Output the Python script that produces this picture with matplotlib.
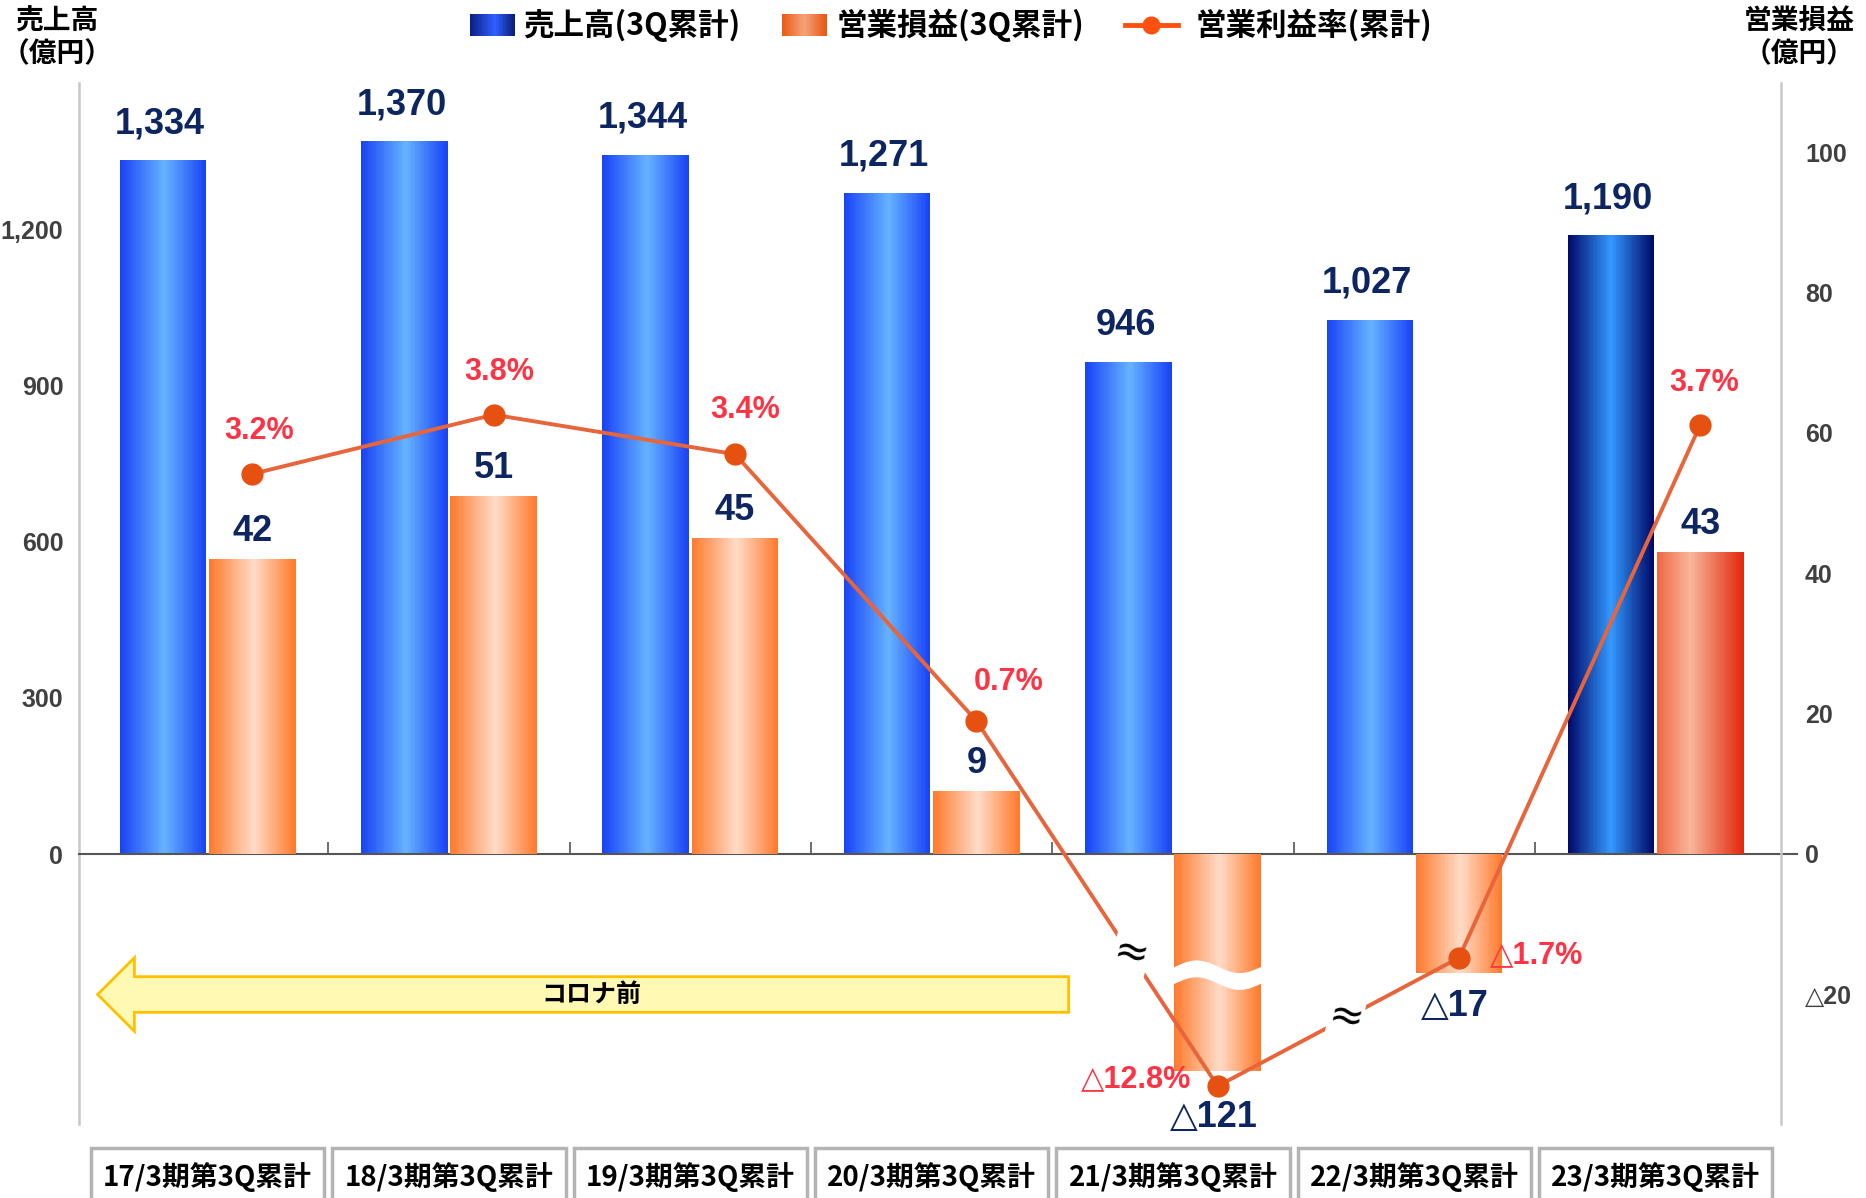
import matplotlib
matplotlib.use('Agg')
import matplotlib.pyplot as plt
import matplotlib.transforms as mtransforms
import numpy as np
from matplotlib.colors import LinearSegmentedColormap
from matplotlib.patches import Rectangle, Polygon
from matplotlib.lines import Line2D

plt.rcParams['font.family'] = ['Liberation Sans', 'DejaVu Sans', 'Noto Sans CJK JP']

# data
categories = ['17/3期第3Q累計', '18/3期第3Q累計', '19/3期第3Q累計', '20/3期第3Q累計',
              '21/3期第3Q累計', '22/3期第3Q累計', '23/3期第3Q累計']
sales = [1334, 1370, 1344, 1271, 946, 1027, 1190]          # 億円
op_profit = [42, 51, 45, 9, -121, -17, 43]                   # 億円
op_margin = [3.2, 3.8, 3.4, 0.7, -12.8, -1.7, 3.7]           # %
sales_ticks = [0, 300, 600, 900, 1200]
profit_ticks = [-20, 0, 20, 40, 60, 80, 100]

NAVY = '#0d2560'
RED = '#ff3344'
LINE = '#e8643a'
DOT = '#e65010'
CJK = ['Noto Sans CJK JP', 'DejaVu Sans']
NUM = ['Liberation Sans', 'DejaVu Sans', 'Noto Sans CJK JP']

# broken axis knees (values below get squashed)
PROFIT_KNEE, PROFIT_K = -28, 0.0308
MARGIN_KNEE, MARGIN_K = -2.5, 0.04854

cm_blue = LinearSegmentedColormap.from_list('b', [(0, '#1a44f5'), (0.52, '#66b3ff'), (1, '#1a44f5')])
cm_blue_last = LinearSegmentedColormap.from_list('bl', [(0, '#000a6a'), (0.5, '#3399ff'), (1, '#000a6a')])
cm_orange = LinearSegmentedColormap.from_list('o', [(0, '#ff7b2e'), (0.52, '#ffdcc8'), (1, '#ff7b2e')])
cm_orange_last = LinearSegmentedColormap.from_list('ol', [(0, '#ef6a45'), (0.38, '#f7b69a'), (1, '#e32a0f')])
cm_leg_blue = LinearSegmentedColormap.from_list('lb', [(0, '#0c1e85'), (0.55, '#2e60ff'), (1, '#0a1a70')])
cm_leg_orange = LinearSegmentedColormap.from_list('lo', [(0, '#e85a10'), (0.5, '#f5a27a'), (1, '#e85510')])


def broken(knee, k):
    def fwd(v):
        v = np.asarray(v, dtype=float)
        return np.where(v >= knee, v, knee + (v - knee) * k)

    def inv(v):
        v = np.asarray(v, dtype=float)
        return np.where(v >= knee, v, knee + (v - knee) / k)
    return fwd, inv


def grad_bar(axis, xc, h, w, cmap, n=48):
    edges = np.linspace(xc - w / 2, xc + w / 2, n + 1)
    mids = (edges[:-1] + edges[1:]) / 2
    cols = cmap(np.linspace(0, 1, n))
    axis.bar(mids, [h] * n, width=(w / n) * 1.15, color=cols, linewidth=0, zorder=2)


def grad_rect(fig, x0, y0, w, h, cmap, n=30):
    for i in range(n):
        fig.add_artist(Rectangle((x0 + i * w / n, y0), w / n * 1.1, h, transform=fig.transFigure,
                                 facecolor=cmap((i + 0.5) / n), linewidth=0))


def mkplot():
    fig = plt.figure(figsize=(18.66, 11.98), dpi=100)
    ax = fig.add_axes([0.0421, 0.0616, 0.9126, 0.8689])
    ax2 = ax.twinx()
    ax3 = ax.twinx()

    x = np.arange(len(categories))
    width = 0.357
    off = 0.185
    n = len(categories)

    # sales bars (left axis)
    for i, v in enumerate(sales):
        grad_bar(ax, x[i] - off, v, width, cm_blue_last if i == n - 1 else cm_blue)
        ax.annotate('{:,}'.format(v), xy=(x[i] - off, v), xytext=(-2, 26), textcoords='offset points',
                    ha='center', va='center', fontsize=26, fontweight='bold', color=NAVY, family=NUM)

    # operating profit bars (right axis, broken below knee)
    pf, pi = broken(PROFIT_KNEE, PROFIT_K)
    ax2.set_yscale('function', functions=(pf, pi))
    ax2.set_ylim(float(pi(-38.5)), 109.8)
    prof_dy = [20, 20, 20, 20, -34, -24, 20]
    for i, v in enumerate(op_profit):
        grad_bar(ax2, x[i] + off, v, width, cm_orange_last if i == n - 1 else cm_orange)
        txt = '{}'.format(v) if v >= 0 else '△{}'.format(-v)
        ax2.annotate(txt, xy=(x[i] + off, v), xytext=(-3 if v < 0 else 0, prof_dy[i]),
                     textcoords='offset points', ha='center', va='center', fontsize=26,
                     fontweight='bold', color=NAVY, family=NUM, zorder=6)
        if v < PROFIT_KNEE:
            # white wavy break across the bar
            xb = np.linspace(x[i] + off - width * 0.6, x[i] + off + width * 0.6, 120)
            t = (xb - (x[i] + off - width / 2)) / width
            wave = 0.9 * np.sin(2 * np.pi * t)
            ax2.fill_between(xb, -17.2 + 1.2 + wave, -17.2 - 1.2 + wave, color='white',
                             linewidth=0, zorder=5)

    # operating margin line (own hidden axis, broken below knee)
    mf, mi = broken(MARGIN_KNEE, MARGIN_K)
    ax3.set_yscale('function', functions=(mf, mi))
    ax3.set_ylim(float(mi(-3.386)), 7.157)
    xm = x + off
    ax3.plot(xm, op_margin, color=LINE, lw=2.8, zorder=3, solid_capstyle='round')
    ax3.plot(xm, op_margin, 'o', ms=15, color=DOT, zorder=4)
    m_off = [(5, 31, 'center'), (4, 31, 'center'), (7, 32, 'center'), (23, 28, 'center'),
             (-19, 5, 'right'), (22, 2, 'left'), (3, 30, 'center')]
    for i, v in enumerate(op_margin):
        txt = '{:.1f}%'.format(v) if v >= 0 else '△{:.1f}%'.format(-v)
        dx, dy, ha = m_off[i]
        ax3.annotate(txt, xy=(xm[i], v), xytext=(dx, dy), textcoords='offset points',
                     ha=ha, va='center', fontsize=22, fontweight='bold', color=RED, family=NUM)

    # ≈ marks where the line passes the break
    for i, v in enumerate(op_margin):
        if v < MARGIN_KNEE:
            for j, tt in ((i - 1, 0.36), (i + 1, 0.53)):
                p = ax3.transData.transform([(xm[i], v), (xm[j], op_margin[j])])
                q = p[0] + (p[1] - p[0]) * tt
                d = ax3.transData.inverted().transform(q)
                ax3.text(d[0], d[1], '≈', ha='center', va='center', fontsize=30, color='black',
                         family=['DejaVu Sans'], rotation=-12, zorder=6,
                         bbox=dict(facecolor='white', edgecolor='none', pad=0))

    # axes styling
    ax.set_xlim(-0.535, 6.521)
    ax.set_ylim(-519, 1481)
    ax.set_yticks(sales_ticks)
    ax.set_yticklabels(['{:,}'.format(t) for t in sales_ticks])
    ax.tick_params(axis='y', length=0, pad=11, labelsize=18, labelcolor='#404040')
    ax2.set_yticks(profit_ticks)
    ax2.set_yticklabels([('{}'.format(t) if t >= 0 else '△{}'.format(-t)) for t in profit_ticks])
    ax2.tick_params(axis='y', length=0, pad=17, labelsize=18, labelcolor='#404040')
    for lab in ax.get_yticklabels() + ax2.get_yticklabels():
        lab.set_fontweight('bold')
        lab.set_family(NUM)
    ax.set_xticks(x[:-1] + 0.5)
    ax.tick_params(axis='x', direction='in', length=9, width=1.2, color='#555555', labelbottom=False)
    ax.spines['bottom'].set_position(('data', 0))
    ax.spines['bottom'].set_color('#555555')
    ax.spines['bottom'].set_linewidth(1.5)
    ax.spines['left'].set_color('#c8c8c8')
    ax.spines['left'].set_linewidth(1.8)
    for s in ['top', 'right']:
        ax.spines[s].set_visible(False)
    for s in ['top', 'left', 'bottom']:
        ax2.spines[s].set_visible(False)
    ax2.spines['right'].set_color('#c8c8c8')
    ax2.spines['right'].set_linewidth(1.8)
    ax3.set_axis_off()
    # little tick at zero on the right
    ax2.plot([1.0, 1.009], [0, 0], transform=mtransforms.blended_transform_factory(ax2.transAxes, ax2.transData),
             color='#555555', lw=1.5, clip_on=False)

    # "コロナ前" arrow
    yc, bh, hh = 0.1246, 0.01714, 0.0354
    tip, hb, end = 0.0112, 0.0328, 0.5814
    arrow = Polygon([(tip, yc), (hb, yc + hh), (hb, yc + bh), (end, yc + bh), (end, yc - bh),
                     (hb, yc - bh), (hb, yc - hh)], closed=True, transform=ax.transAxes,
                    facecolor='#fff9b3', edgecolor='#ffc000', lw=2)
    ax.add_patch(arrow)
    ax.text(0.3012, yc, 'コロナ前', transform=ax.transAxes, ha='center', va='center',
            fontsize=18, fontweight='bold', family=CJK)

    # category boxes under the plot
    bt = mtransforms.blended_transform_factory(ax.transData, fig.transFigure)
    for i, c in enumerate(categories):
        fig.add_artist(Rectangle((x[i] - 0.483, -0.01), 0.966, 0.0517, transform=bt,
                                 facecolor='white', edgecolor='#b4b4b4', lw=2.5))
        fig.text(x[i], 0.0175, c, transform=bt, ha='center', va='center', fontsize=20,
                 fontweight='bold', family=CJK)

    # axis titles
    for xt, t in ((0.0306, '売上高'), (0.9643, '営業損益')):
        fig.text(xt, 0.982, t, ha='center', va='center', fontsize=20, fontweight='bold', family=CJK)
        fig.text(xt, 0.955, '（億円）', ha='center', va='center', fontsize=20, fontweight='bold', family=CJK)

    # legend
    ly = 0.9791
    grad_rect(fig, 0.2519, 0.9702, 0.0242, 0.0179, cm_leg_blue)
    fig.text(0.2806, ly, '売上高(3Q累計)', ha='left', va='center', fontsize=22, fontweight='bold', family=CJK)
    grad_rect(fig, 0.419, 0.9702, 0.0242, 0.0179, cm_leg_orange)
    fig.text(0.4483, ly, '営業損益(3Q累計)', ha='left', va='center', fontsize=22, fontweight='bold', family=CJK)
    fig.add_artist(Line2D([0.6027, 0.6314], [ly, ly], transform=fig.transFigure, color='#ff5010', lw=3.5))
    fig.add_artist(Line2D([0.6170], [ly], transform=fig.transFigure, marker='o', ms=12, color='#ff5010'))
    fig.text(0.641, ly, '営業利益率(累計)', ha='left', va='center', fontsize=22, fontweight='bold', family=CJK)

    fig.savefig('out.png', dpi=100)


if __name__ == "__main__":
    mkplot()
